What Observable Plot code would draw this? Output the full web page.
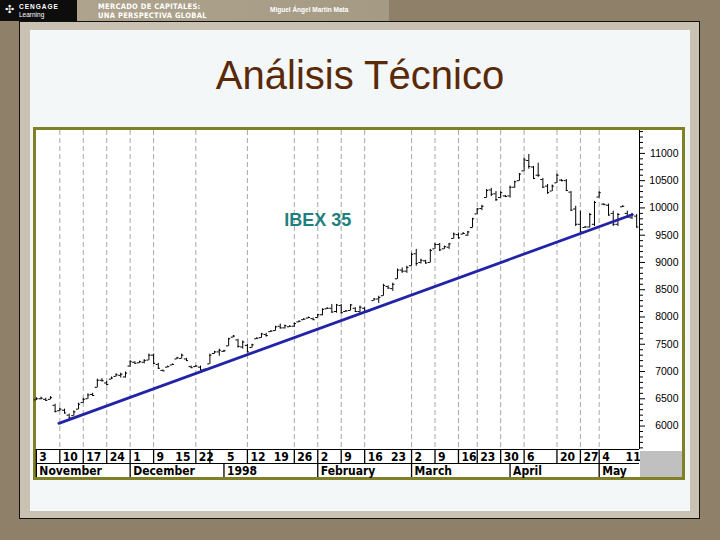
<!DOCTYPE html>
<html>
<head>
<meta charset="utf-8">
<script src="https://cdn.jsdelivr.net/npm/d3@7"></script>
<script src="https://cdn.jsdelivr.net/npm/@observablehq/plot@0.6"></script>
<style>
  html, body { margin: 0; padding: 0; }
  body { width: 720px; height: 540px; background: #8f8169; position: relative; overflow: hidden; font-family: "Liberation Sans", Arial, sans-serif; }
  .abs { position: absolute; }
</style>
</head>
<body>
<div class="abs" style="left:0;top:0;width:77px;height:21px;background:#0d0d0d;"></div>
<div class="abs" style="left:5px;top:3px;color:#fff;font:11px 'DejaVu Sans';">✣</div>
<div class="abs" style="left:19px;top:3px;color:#fff;font:bold 6.5px 'Liberation Sans';letter-spacing:1px;">CENGAGE</div>
<div class="abs" style="left:19px;top:11px;color:#fff;font:6.5px 'Liberation Sans';">Learning</div>
<div class="abs" style="left:77px;top:0;width:312px;height:21px;background:linear-gradient(90deg,#aea38d,#a59a84);"></div>
<div class="abs" style="left:98px;top:2px;color:#fff;font:bold 7.5px 'DejaVu Sans Condensed','Liberation Sans';letter-spacing:0.3px;">MERCADO DE CAPITALES:</div>
<div class="abs" style="left:98px;top:11px;color:#fff;font:bold 7.5px 'DejaVu Sans Condensed','Liberation Sans';letter-spacing:0.3px;">UNA PERSPECTIVA GLOBAL</div>
<div class="abs" style="left:270px;top:6px;color:#fff;font:bold 6.5px 'Liberation Sans';">Miguel Ángel Martín Mata</div>

<div class="abs" style="left:19px;top:21px;width:679px;height:496px;border:1px solid #111;background:#c9c2b2;"></div>
<div class="abs" style="left:30px;top:30px;width:660px;height:481px;background:#f3f7f8;"></div>
<div class="abs" style="left:0;top:55px;width:720px;text-align:center;font:40px/40px 'Liberation Sans', Arial, sans-serif;color:#5a2a08;">Análisis Técnico</div>

<div id="frame" class="abs" style="left:33px;top:127px;width:646px;height:347px;border:3px solid #808026;background:#fff;">
  <div id="chart" class="abs" style="left:0;top:0;"></div>
  <div class="abs" style="left:604px;top:321px;width:42px;height:26px;background:#c0c0c0;"></div>
</div>

<script>
// Daily IBEX 35 bars (trading-day index 0 = 3 Nov 1997)
const high = [6520,6530,6510,6540,6400,6330,6310,6220,6280,6420,
  6510,6590,6600,6860,6870,6820,6900,6960,6970,6990,
  7200,7180,7190,7220,7320,7320,7150,7030,7100,7140,
  7260,7320,7240,7100,7110,7100,7050,7320,7370,7410,
  7390,7610,7660,7590,7560,7500,7500,7620,7700,7700,
  7750,7830,7870,7850,7840,7890,7930,7970,8000,7980,
  8050,8150,8170,8230,8230,8230,8120,8230,8170,8200,
  8170,8130,8340,8380,8600,8570,8620,8880,8900,8930,
  9170,9240,9060,9040,9240,9350,9350,9300,9350,9540,
  9540,9550,9570,9810,9990,10050,10340,10360,10300,10300,
  10230,10400,10490,10630,10910,10980,10760,10820,10540,10430,
  10420,10620,10520,10520,10300,10030,9940,9660,9900,10120,
  10300,10080,10070,9940,9900,10040,9940,9900,9880];
const low = [6470,6480,6460,6480,6240,6270,6220,6130,6180,6300,
  6420,6490,6550,6700,6810,6740,6850,6900,6880,6880,
  7080,7140,7150,7140,7200,7130,7040,7000,7070,7110,
  7220,7230,7190,7060,7080,7010,7010,7130,7320,7280,
  7350,7460,7620,7430,7410,7340,7430,7590,7610,7630,
  7720,7740,7780,7780,7810,7810,7900,7940,7970,7940,
  7980,8020,8140,8070,8070,8050,8090,8110,8090,8050,
  8070,8090,8290,8250,8380,8510,8470,8690,8800,8800,
  8930,8930,8970,8970,8990,9240,9200,9240,9240,9430,
  9430,9510,9480,9630,9880,9950,10180,10210,10120,10180,
  10190,10180,10360,10490,10670,10710,10520,10560,10360,10250,
  10300,10450,10480,10300,9940,9660,9540,9630,9630,9660,
  10180,10050,9850,9660,9660,10010,9810,9790,9630];
const open = [6480,6500,6490,6490,6380,6280,6290,6200,6190,6310,
  6430,6500,6580,6710,6840,6790,6860,6910,6930,6900,
  7100,7170,7160,7170,7210,7300,7130,7020,7080,7120,
  7230,7240,7230,7090,7090,7080,7040,7140,7330,7360,
  7370,7470,7630,7580,7450,7480,7440,7600,7620,7680,
  7730,7750,7830,7800,7820,7830,7910,7950,7980,7970,
  7990,8040,8150,8160,8100,8210,8100,8120,8160,8100,
  8160,8100,8300,8330,8390,8560,8520,8700,8860,8840,
  8940,9160,9000,9030,9000,9250,9330,9250,9280,9440,
  9510,9520,9500,9640,9890,9990,10190,10330,10260,10190,
  10220,10220,10380,10500,10680,10870,10750,10600,10520,10400,
  10310,10460,10510,10500,10290,9980,9700,9640,9650,9700,
  10200,10070,10050,9900,9700,10020,9900,9820,9850];
const close = [6500,6510,6470,6520,6270,6310,6240,6150,6260,6400,
  6490,6570,6560,6840,6830,6760,6880,6940,6950,6970,
  7180,7150,7180,7200,7300,7150,7060,7010,7090,7130,
  7250,7300,7200,7070,7100,7030,7020,7300,7360,7390,
  7380,7600,7650,7460,7540,7360,7490,7610,7690,7660,
  7740,7820,7800,7840,7830,7880,7920,7960,7990,7950,
  8040,8140,8160,8090,8220,8080,8110,8220,8100,8180,
  8090,8120,8330,8360,8580,8530,8600,8860,8840,8910,
  9150,8980,9040,8990,9220,9330,9230,9290,9340,9520,
  9450,9530,9560,9800,9980,10030,10320,10250,10150,10280,
  10210,10380,10480,10620,10880,10760,10540,10600,10380,10280,
  10400,10600,10500,10320,9960,9700,9560,9650,9880,10100,
  10280,10060,9870,9700,9880,10030,9830,9880,9650];

// Support (trend) line: start / end points
const trendDays = [4.8, 127];
const trendValues = [6050, 9875];

// Axis labels
const weekDays = [0,5,10,15,20,25,29,34,40,45,50,55,60,65,70,75,80,85,90,94,99,104,111,116,120,125];
const weekLabels = ["3","10","17","24","1","9","15","22","5","12","19","26","2","9","16","23","2","9","16","23","30","6","20","27","4","11"];
const monthDays = [0,20,40,60,80,101,120];
const monthLabels = ["November","December","1998","February","March","April","May"];
const gridDays = [5,10,15,20,25,34,45,55,60,65,70,80,85,90,94,99,104,111,116,120];
const yearBreakDay = 37;
const majorTicks = [6000,6500,7000,7500,8000,8500,9000,9500,10000,10500,11000];
const minorTicks = d3.range(5600, 11401, 100).filter(v => v % 500 !== 0);

const seriesLabel = {day: 60, value: 9780, text: "IBEX 35"};

const xDomain = [0.03, 128.6];
const yDomain = [5570, 11420];

const bars = high.map((h, i) => ({i, high: h, low: low[i], open: open[i], close: close[i]}));
const trend = trendDays.map((d, k) => ({i: d, v: trendValues[k]}));
const row1Seps = [0, ...gridDays, yearBreakDay];
const weekMap = new Map(weekDays.map((d, k) => [d, weekLabels[k]]));
const monthMap = new Map(monthDays.map((d, k) => [d, monthLabels[k]]));
const narrow = "'Liberation Sans Narrow', 'DejaVu Sans Condensed', 'Liberation Sans', sans-serif";
const yMin = yDomain[0];

const chart = Plot.plot({
  width: 646, height: 347,
  marginLeft: 0, marginRight: 43, marginTop: 0, marginBottom: 28,
  x: {domain: xDomain, axis: null},
  y: {domain: yDomain, axis: null},
  style: {background: "white", fontFamily: "'Liberation Sans', Arial, sans-serif", overflow: "visible", color: "black"},
  marks: [
    Plot.ruleX(gridDays, {stroke: "#a8a8a8", strokeDasharray: "5,3"}),
    Plot.ruleX(bars, {x: "i", y1: "low", y2: "high", stroke: "black"}),
    Plot.ruleY(bars, {y: "open", x1: d => d.i - 0.45, x2: "i", stroke: "black"}),
    Plot.ruleY(bars, {y: "close", x1: "i", x2: d => d.i + 0.45, stroke: "black"}),
    Plot.line(trend, {x: "i", y: "v", stroke: "#2323a8", strokeWidth: 2.8}),
    Plot.text([seriesLabel], {x: "day", y: "value", text: "text", fill: "#1f7f7f", fontWeight: "bold", fontSize: 18}),
    Plot.ruleX([xDomain[1]], {stroke: "black"}),
    Plot.axisY(majorTicks, {anchor: "right", tickSize: 5, tickPadding: 34, textAnchor: "end", tickFormat: d => String(d), fontSize: 10.5}),
    Plot.axisY(minorTicks, {anchor: "right", tickSize: 3, tickFormat: () => ""}),
    Plot.ruleY([yMin], {stroke: "black"}),
    Plot.ruleY([yMin], {stroke: "black", dy: 14}),
    // separators of the day row and of the month row
    Plot.ruleX(row1Seps, {x: d => d, y1: () => yMin, y2: () => yMin, insetBottom: -14, stroke: "black", strokeWidth: 1.3}),
    Plot.ruleX(monthDays, {x: d => d, y1: () => yMin, y2: () => yMin, insetTop: 14, insetBottom: -28, stroke: "black", strokeWidth: 1.3}),
    Plot.axisX(weekDays, {anchor: "bottom", tickSize: 0, tickPadding: 3, tickFormat: d => weekMap.get(d), textAnchor: "start", dx: 3, fontWeight: "bold", fontSize: 12, fontFamily: narrow}),
    Plot.axisX(monthDays, {anchor: "bottom", tickSize: 0, tickPadding: 17, tickFormat: d => monthMap.get(d), textAnchor: "start", dx: 3, fontWeight: "bold", fontSize: 12, fontFamily: narrow})
  ]
});
document.getElementById("chart").appendChild(chart);
</script>
</body>
</html>
